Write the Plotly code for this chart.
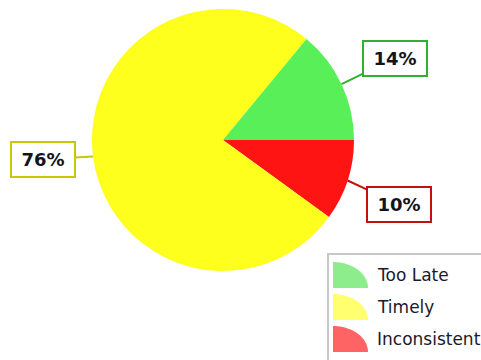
import numpy as np
import plotly.graph_objects as go

# Data
categories = ["Too Late", "Timely", "Inconsistent"]
shares = [14, 76, 10]

# Styling
slice_colors = ["#58ef58", "#ffff1e", "#ff1414"]
label_borders = ["#33b033", "#c8c800", "#c41010"]
legend_colors = ["#8ded8d", "#ffff70", "#ff6464"]

W, H = 481, 360
cx, cy, r = 223, 140, 131           # pie centre and radius in pixels
label_offsets = [(53, -26), (-50, 3), (51, 24)]  # callout box offsets (px)


def px(x):
    return x / W


def py(y):
    return 1 - y / H


# Slices run counterclockwise from 3 o'clock: Too Late, Timely, Inconsistent.
# Plotly is fed the reversed order going clockwise, which gives that layout.
fig = go.Figure(go.Pie(
    labels=categories[::-1],
    values=shares[::-1],
    sort=False,
    direction="clockwise",
    rotation=90,
    marker=dict(colors=slice_colors[::-1], line=dict(width=0)),
    textinfo="none",
    hoverinfo="label+percent",
    showlegend=False,
    domain=dict(x=[px(cx - r), px(cx + r)], y=[py(cy + r), py(cy - r)]),
))

# Callout labels attached to the middle of each slice's outer edge
annotations = []
total = sum(shares)
cum = 0
for name, v, bc, (ax, ay) in zip(categories, shares, label_borders, label_offsets):
    theta = 2 * np.pi * (cum + v / 2) / total
    cum += v
    ex = cx + r * np.cos(theta)
    ey = cy - r * np.sin(theta)
    annotations.append(dict(
        x=px(ex), y=py(ey), xref="paper", yref="paper",
        ax=ax, ay=ay, axref="pixel", ayref="pixel",
        text=f"<b>{round(100 * v / total)}%</b>",
        width=50, align="center",
        showarrow=True, arrowhead=0, arrowwidth=2, arrowcolor=bc, standoff=0,
        bordercolor=bc, borderwidth=2, borderpad=6, bgcolor="white",
        font=dict(family="DejaVu Sans", size=18, color="#141420"),
    ))

# Legend box with quarter-circle swatches
shapes = [dict(
    type="rect", xref="paper", yref="paper",
    x0=px(328), x1=px(W + 20), y0=py(H + 20), y1=py(254),
    line=dict(color="#c8c8c8", width=2), fillcolor="white", layer="below",
)]
t = np.linspace(0, np.pi / 2, 24)
for i, (name, col) in enumerate(zip(categories, legend_colors)):
    x0, y0 = 333, 288 + 32 * i      # swatch corner (bottom-left)
    rx, ry = 35, 26
    pts = [(x0, y0)] + [(x0 + rx * np.sin(a), y0 - ry * np.cos(a)) for a in t]
    path = "M " + " L ".join(f"{px(a):.5f},{py(b):.5f}" for a, b in pts) + " Z"
    shapes.append(dict(type="path", xref="paper", yref="paper", path=path,
                       fillcolor=col, line=dict(width=0)))
    annotations.append(dict(
        x=px(375), y=py(y0 - 13), xref="paper", yref="paper",
        xanchor="left", yanchor="middle", showarrow=False, text=name,
        font=dict(family="DejaVu Sans", size=17, color="#1a1a2a"),
    ))

fig.update_layout(
    width=W, height=H,
    margin=dict(l=0, r=0, t=0, b=0),
    paper_bgcolor="white", plot_bgcolor="white",
    annotations=annotations, shapes=shapes,
)

fig.write_html("out.html")
